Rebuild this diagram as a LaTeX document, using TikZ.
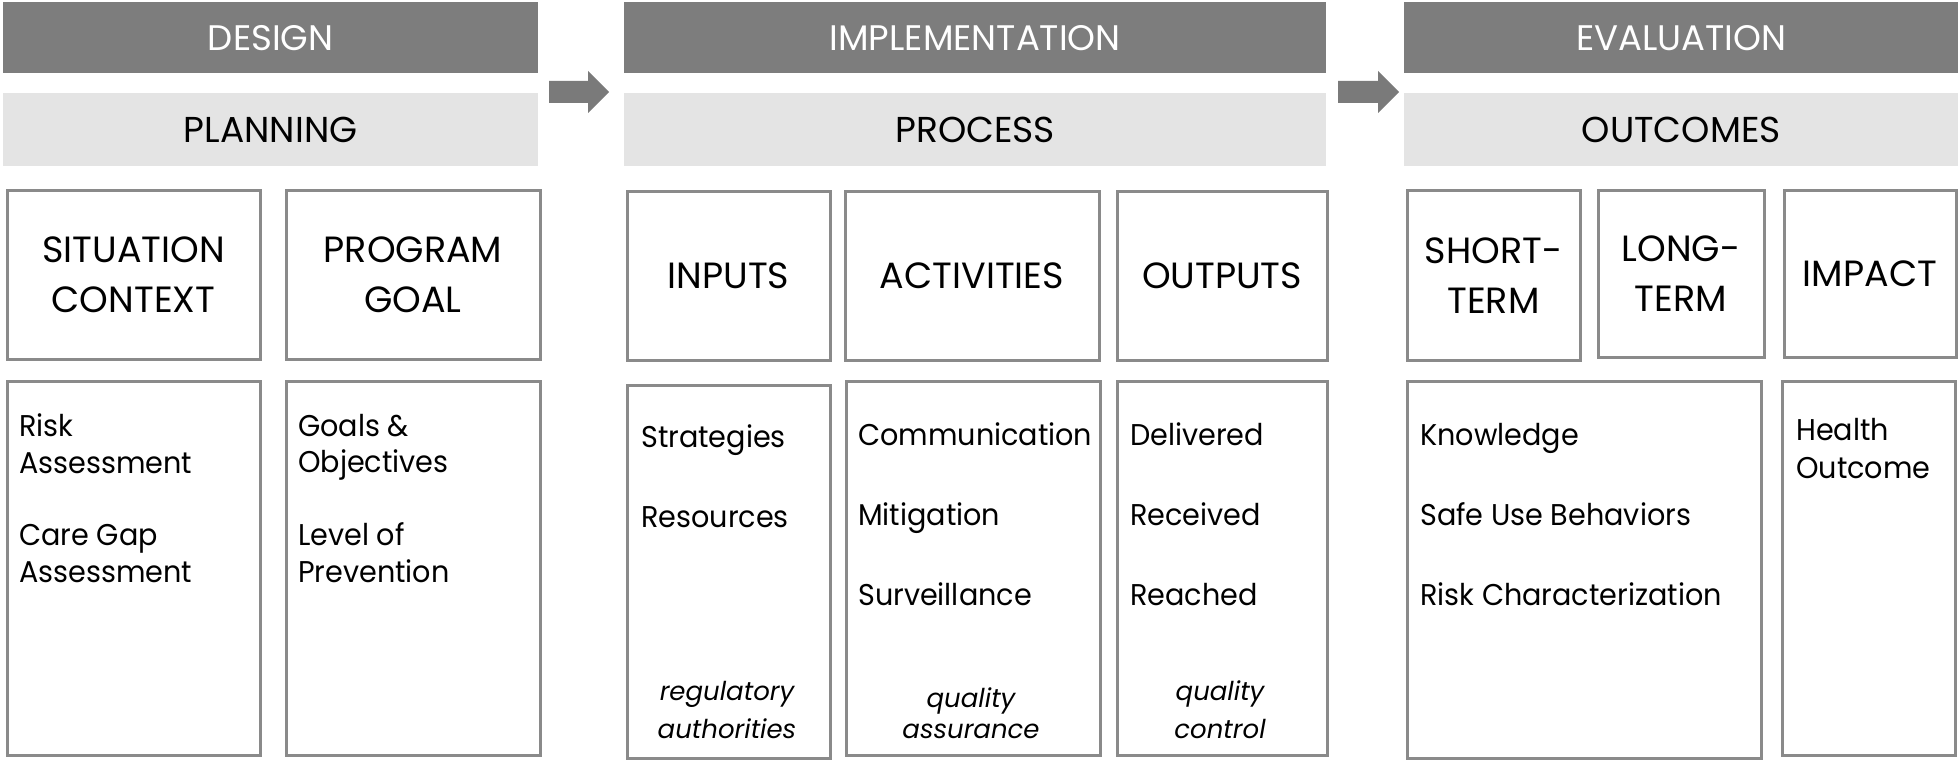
\documentclass[tikz,border=0pt]{standalone}
\usepackage{fontspec}
\setmainfont{Poppins}
\newfontfamily\itemfont[FakeStretch=0.955]{Poppins}
\definecolor{barDark}{HTML}{7D7D7D}
\definecolor{barLight}{HTML}{E4E4E4}
\definecolor{arrowGray}{HTML}{7A7A7A}
\definecolor{boxGray}{HTML}{8A8A8A}
\begin{document}
\begin{tikzpicture}[x=1pt,y=-1pt,
  darkbar/.style={fill=barDark, draw=none, inner sep=0pt, anchor=north west,
    text=white, font=\fontsize{35.5}{40}\selectfont},
  lightbar/.style={fill=barLight, draw=none, inner sep=0pt, anchor=north west,
    text=black, font=\fontsize{36}{40}\selectfont},
  headbox/.style={draw=boxGray, line width=3pt, fill=white, inner sep=0pt,
    anchor=north west, align=center, font=\fontsize{36.5}{50}\selectfont},
  bodybox/.style={draw=boxGray, line width=3pt, fill=white, inner sep=0pt, anchor=north west},
  item/.style={anchor=base west, inner sep=0pt, font=\itemfont\fontsize{30}{37}\selectfont},
  note/.style={anchor=base, inner sep=0pt, font=\fontsize{26}{31}\itshape},
  blockarrow/.style={fill=arrowGray, draw=none}
]
\useasboundingbox (0,0) rectangle (1958,762);

% top bars
\node[darkbar, minimum width=535pt, minimum height=71pt] (design) at (3,2) {DESIGN};
\node[darkbar, minimum width=702pt, minimum height=71pt] (impl) at (624,2) {IMPLEMENTATION};
\node[darkbar, minimum width=554pt, minimum height=71pt] (eval) at (1404,2) {EVALUATION};

\node[lightbar, minimum width=535pt, minimum height=73pt] (planning) at (3,93) {PLANNING};
\node[lightbar, minimum width=702pt, minimum height=73pt] (process) at (624,93) {PROCESS};
\node[lightbar, minimum width=554pt, minimum height=73pt] (outcomes) at (1404,93) {OUTCOMES};

% block arrows
\fill[blockarrow] (549,81) -- (588,81) -- (588,71) -- (609,92) -- (588,113) -- (588,103) -- (549,103) -- cycle;
\fill[blockarrow] (1338,81) -- (1378,81) -- (1378,71) -- (1399,92) -- (1378,113) -- (1378,103) -- (1338,103) -- cycle;

% row 2 header boxes
\node[headbox, minimum width=253pt, minimum height=168pt] (sit) at (5.5,189.5) {SITUATION\\CONTEXT};
\node[headbox, minimum width=254pt, minimum height=168pt] (prog) at (284.5,189.5) {PROGRAM\\GOAL};
\node[headbox, minimum width=203pt, minimum height=168pt] (inputs) at (625.5,190.5) {INPUTS};
\node[headbox, minimum width=254pt, minimum height=168pt] (activities) at (843.5,190.5) {ACTIVITIES};
\node[headbox, minimum width=210pt, minimum height=168pt] (outputs) at (1115.5,190.5) {OUTPUTS};
\node[headbox, minimum width=173pt, minimum height=169pt] (short) at (1405.5,189.5) {SHORT-\\TERM};
\node[headbox, minimum width=166pt, minimum height=166pt] (long) at (1596.5,189.5) {LONG-\\TERM};
\node[headbox, minimum width=172pt, minimum height=166pt] (impact) at (1782.5,189.5) {IMPACT};

% row 3 body boxes
\node[bodybox, minimum width=253pt, minimum height=374pt] (riskbox) at (5.5,379.5) {};
\node[bodybox, minimum width=254pt, minimum height=374pt] (goalbox) at (284.5,379.5) {};
\node[bodybox, minimum width=203pt, minimum height=373pt] (inbox) at (625.5,383.5) {};
\node[bodybox, minimum width=254pt, minimum height=374pt] (actbox) at (844.5,379.5) {};
\node[bodybox, minimum width=210pt, minimum height=374pt] (outbox) at (1115.5,379.5) {};
\node[bodybox, minimum width=354pt, minimum height=377pt] (knowbox) at (1405.5,379.5) {};
\node[bodybox, minimum width=173pt, minimum height=374pt] (healthbox) at (1780.5,379.5) {};

% body texts
\node[item] (t1) at (19,436) {Risk};
\node[item] (t2) at (19,473) {Assessment};
\node[item] (t3) at (19,545) {Care Gap};
\node[item] (t4) at (19,582) {Assessment};

\node[item] (t5) at (298,436) {Goals \&};
\node[item] (t6) at (298,472) {Objectives};
\node[item] (t7) at (298,545) {Level of};
\node[item] (t8) at (298,582) {Prevention};

\node[item] (t9) at (641,447) {Strategies};
\node[item] (t10) at (641,527) {Resources};

\node[item] (t11) at (858,445) {Communication};
\node[item] (t12) at (858,525) {Mitigation};
\node[item] (t13) at (858,605) {Surveillance};

\node[item] (t14) at (1130,445) {Delivered};
\node[item] (t15) at (1130,525) {Received};
\node[item] (t16) at (1130,605) {Reached};

\node[item] (t17) at (1420,445) {Knowledge};
\node[item] (t18) at (1420,525) {Safe Use Behaviors};
\node[item] (t19) at (1420,605) {Risk Characterization};

\node[item] (t20) at (1796,440) {Health};
\node[item] (t21) at (1796,478) {Outcome};

% italic notes
\node[note] (n1) at (727,700) {regulatory};
\node[note] (n2) at (727,738) {authorities};
\node[note] (n3) at (971,707) {quality};
\node[note] (n4) at (971,738) {assurance};
\node[note] (n5) at (1220,700) {quality};
\node[note] (n6) at (1220,738) {control};
\end{tikzpicture}
\end{document}
